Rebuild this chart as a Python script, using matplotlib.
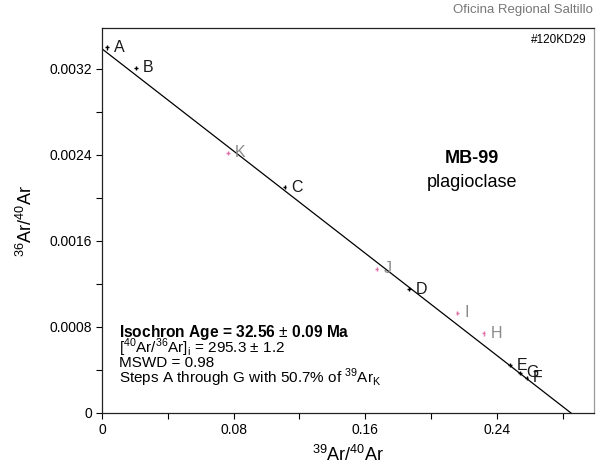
import numpy as np
import matplotlib.pyplot as plt

plt.rcParams['font.family'] = ['Liberation Sans', 'DejaVu Sans']
plt.rcParams['mathtext.fontset'] = 'custom'
plt.rcParams['mathtext.rm'] = 'Liberation Sans'
plt.rcParams['mathtext.bf'] = 'Liberation Sans:bold'

# step data (39Ar/40Ar, 36Ar/40Ar)
steps = ['A', 'B', 'C', 'D', 'E', 'F', 'G', 'H', 'I', 'J', 'K']
x39 = [0.003, 0.0207, 0.111, 0.1866, 0.248, 0.258, 0.254, 0.232, 0.216, 0.167, 0.0766]
y36 = [0.00340, 0.00321, 0.00210, 0.00115, 0.000446, 0.000326, 0.000372, 0.00074, 0.00093, 0.00134, 0.00242]
used = [True, True, True, True, True, True, True, False, False, False, False]

intercept_40_36 = 295.3
x_intercept = 0.285

x_ticks = [0, 0.04, 0.08, 0.12, 0.16, 0.20, 0.24, 0.28]
x_labels = ['0', '', '0.08', '', '0.16', '', '0.24', '']
y_ticks = [0, 0.0004, 0.0008, 0.0012, 0.0016, 0.0020, 0.0024, 0.0028, 0.0032]
y_labels = ['0', '', '0.0008', '', '0.0016', '', '0.0024', '', '0.0032']

fig = plt.figure(figsize=(6, 4.7), dpi=100)
ax = fig.add_axes([0.170, 0.1213, 0.82, 0.8191])
ax.set_xlim(0, 0.299)
ax.set_ylim(0, 0.00358)

# isochron line
y0 = 1.0 / intercept_40_36
xs = np.array([0, x_intercept])
ax.plot(xs, y0 * (1 - xs / x_intercept), color='black', lw=0.9)

for s, x, y, u in zip(steps, x39, y36, used):
    c = 'black' if u else '#e070a8'
    ax.errorbar(x, y, xerr=0.0010, yerr=0.00002, fmt='none', ecolor=c, elinewidth=1, capsize=0)
    ax.text(x + 0.004, y, s, fontsize=11.5, va='center', ha='left',
            color='#1a1a1a' if u else '#8a8a8a')

ax.set_xticks(x_ticks)
ax.set_xticklabels(x_labels)
ax.set_yticks(y_ticks)
ax.set_yticklabels(y_labels)
ax.tick_params(direction='out', length=4, width=0.8, labelsize=10, pad=3)

for sp in ['left', 'bottom', 'top']:
    ax.spines[sp].set_color('#222222')
    ax.spines[sp].set_linewidth(0.9)
ax.spines['right'].set_color('#999999')
ax.spines['right'].set_linewidth(0.9)

ax.set_xlabel(r'$^{39}$Ar/$^{40}$Ar', fontsize=13, labelpad=6)
ax.set_ylabel(r'$^{36}$Ar/$^{40}$Ar', fontsize=13, labelpad=10)

ax.text(0.752, 0.662, 'MB-99', transform=ax.transAxes, fontsize=13,
        fontweight='bold', ha='center', va='center')
ax.text(0.752, 0.600, 'plagioclase', transform=ax.transAxes, fontsize=13,
        ha='center', va='center')

tx = 0.035
ax.text(tx, 0.210, r'Isochron Age = 32.56 $\pm$ 0.09 Ma', transform=ax.transAxes,
        fontsize=11.2, fontweight='bold', va='center')
ax.text(tx, 0.170, r'[$^{40}$Ar/$^{36}$Ar]$_{\rm i}$ = 295.3 $\pm$ 1.2', transform=ax.transAxes,
        fontsize=11, va='center')
ax.text(tx, 0.130, 'MSWD = 0.98', transform=ax.transAxes, fontsize=11, va='center')
ax.text(tx, 0.090, r'Steps A through G with 50.7% of $^{39}$Ar$_{\rm K}$', transform=ax.transAxes,
        fontsize=11, va='center')

ax.text(0.985, 0.968, '#120KD29', transform=ax.transAxes, fontsize=8.5,
        ha='right', va='center')
fig.text(0.988, 0.979, 'Oficina Regional Saltillo', fontsize=9.5, color='#777777',
         ha='right', va='center')

fig.savefig('out.png', dpi=100)
